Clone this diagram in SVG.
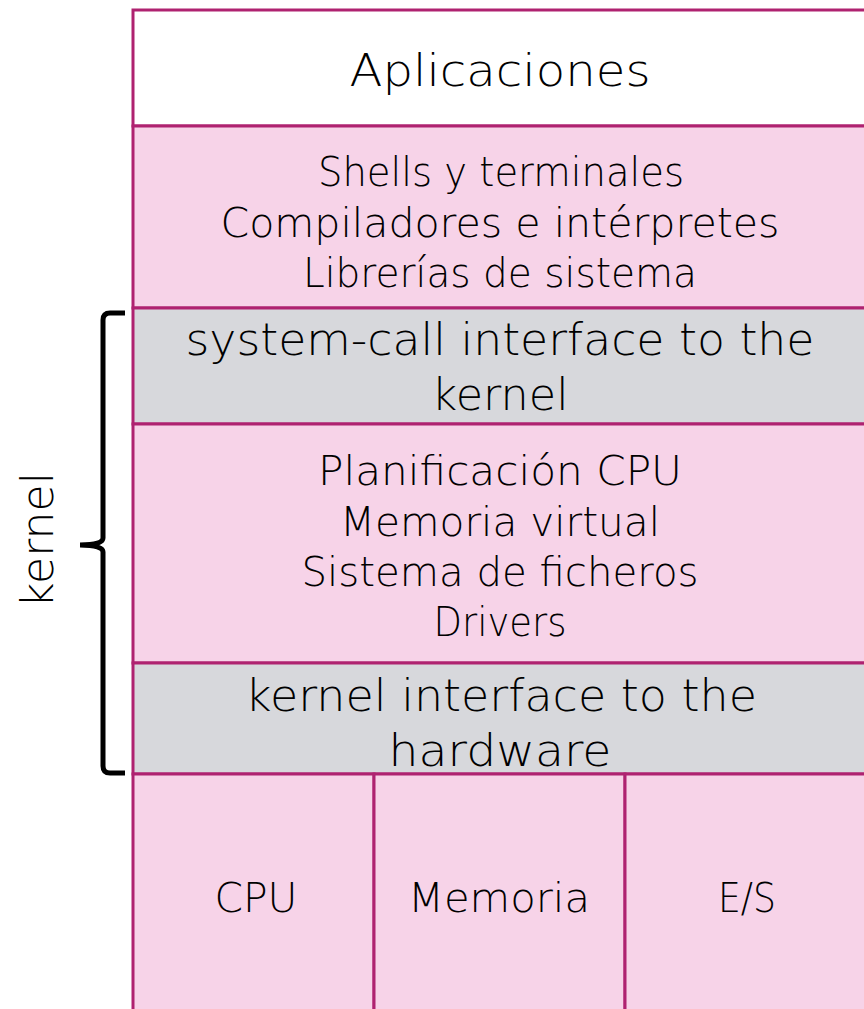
<svg xmlns="http://www.w3.org/2000/svg" width="864" height="1009" viewBox="0 0 864 1009">
<style>
.box{stroke:#AF2270;stroke-width:3}
.w{fill:#FFFFFF}
.p{fill:#F7D3E8}
.g{fill:#D7D8DC}
text{font-family:"DejaVu Sans","Liberation Sans",sans-serif;font-weight:200;fill:#000;text-anchor:middle}
.s{font-size:40px}
.l{font-size:45px}
</style>
<rect width="864" height="1009" fill="#FFFFFF"/>
<g id="aplicaciones"><rect class="box w" x="133" y="10" width="740" height="116"/><text class="l" x="500" y="86" textLength="301" lengthAdjust="spacingAndGlyphs">Aplicaciones</text></g>
<g id="shells"><rect class="box p" x="133" y="126" width="740" height="182"/>
<text class="s" x="501" y="186" textLength="366" lengthAdjust="spacingAndGlyphs">Shells y terminales</text>
<text class="s" x="500" y="237" textLength="559" lengthAdjust="spacingAndGlyphs">Compiladores e intérpretes</text>
<text class="s" x="500" y="287" textLength="394" lengthAdjust="spacingAndGlyphs">Librerías de sistema</text></g>
<g id="syscall"><rect class="box g" x="133" y="308" width="740" height="116"/>
<text class="l" x="500" y="355" textLength="629" lengthAdjust="spacingAndGlyphs">system-call interface to the</text>
<text class="l" x="500" y="410" textLength="137" lengthAdjust="spacingAndGlyphs">kernel</text></g>
<g id="kernel-core"><rect class="box p" x="133" y="424" width="740" height="239"/>
<text class="s" x="500" y="485" textLength="364" lengthAdjust="spacingAndGlyphs">Planificación CPU</text>
<text class="s" x="500" y="536" textLength="320" lengthAdjust="spacingAndGlyphs">Memoria virtual</text>
<text class="s" x="500" y="586" textLength="397" lengthAdjust="spacingAndGlyphs">Sistema de ficheros</text>
<text class="s" x="500" y="636" textLength="133" lengthAdjust="spacingAndGlyphs">Drivers</text></g>
<g id="kif"><rect class="box g" x="133" y="663" width="740" height="111"/>
<text class="l" x="501" y="711" textLength="512" lengthAdjust="spacingAndGlyphs">kernel interface to the</text>
<text class="l" x="500" y="766" textLength="223" lengthAdjust="spacingAndGlyphs">hardware</text></g>
<g id="cpu"><rect class="box p" x="133" y="774" width="241" height="250"/><text class="s" x="256" y="912" textLength="83" lengthAdjust="spacingAndGlyphs">CPU</text></g>
<g id="memoria"><rect class="box p" x="374" y="774" width="251" height="250"/><text class="s" x="499" y="912" textLength="182" lengthAdjust="spacingAndGlyphs">Memoria</text></g>
<g id="es"><rect class="box p" x="625" y="774" width="248" height="250"/><text class="s" x="747" y="912" textLength="58" lengthAdjust="spacingAndGlyphs">E/S</text></g>
<g id="connectors">
<path d="M125,313 H110 Q103,313 103,320 V538 Q103,545 80,545 Q103,545 103,552 V766 Q103,773 110,773 H125" fill="none" stroke="#000" stroke-width="5"/>
</g>
<g id="kernel-label"><text class="l" transform="translate(53,540) rotate(-90)" x="0" y="0" textLength="136" lengthAdjust="spacingAndGlyphs">kernel</text></g>
</svg>
